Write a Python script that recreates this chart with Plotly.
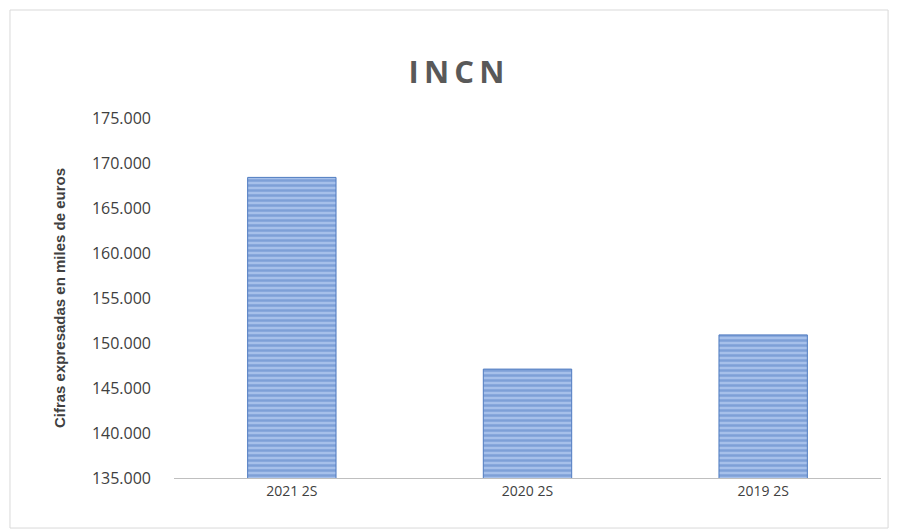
import plotly.graph_objects as go

# datos
periodos = ["2021 2S", "2020 2S", "2019 2S"]
incn = [168400, 147100, 150900]
ticks = [135000, 140000, 145000, 150000, 155000, 160000, 165000, 170000, 175000]
tick_labels = ["135.000", "140.000", "145.000", "150.000", "155.000",
               "160.000", "165.000", "170.000", "175.000"]

fig = go.Figure(go.Bar(
    x=periodos, y=incn, width=0.375,
    marker=dict(color="#95b2e0", line=dict(color="#4f7bc0", width=1),
                pattern=dict(shape="-", fgcolor="#5580c4", bgcolor="#a6c0ea",
                             size=5, solidity=0.5)),
))

fig.update_layout(
    width=897, height=531,
    paper_bgcolor="white", plot_bgcolor="white",
    margin=dict(l=166, r=24, t=110, b=61),
    title=dict(text="<b>I\u2009N\u2009C\u2009N</b>", x=0.5, xref="container", y=0.9,
               xanchor="center",
               font=dict(family="Open Sans", size=31, color="#595959")),
    font=dict(family="Open Sans", size=14, color="#404040"),
    showlegend=False,
    xaxis=dict(showline=True, linecolor="#bfbfbf", linewidth=1, ticks=""),
    yaxis=dict(range=[135000, 175000], tickvals=ticks, ticktext=tick_labels,
               showgrid=False, zeroline=False, ticks="", ticklabelstandoff=22,
               tickfont=dict(size=16),
               title=dict(text="<b>Cifras expresadas en miles de euros</b>",
                          font=dict(family="Liberation Sans Narrow, Liberation Sans", size=15,
                                    color="#404040"), standoff=22)),
    shapes=[dict(type="rect", xref="paper", yref="paper", x0=-0.232, x1=1.01,
                 y0=-0.139, y1=1.3, line=dict(color="#d9d9d9", width=1))],
)

fig.write_html("out.html")
